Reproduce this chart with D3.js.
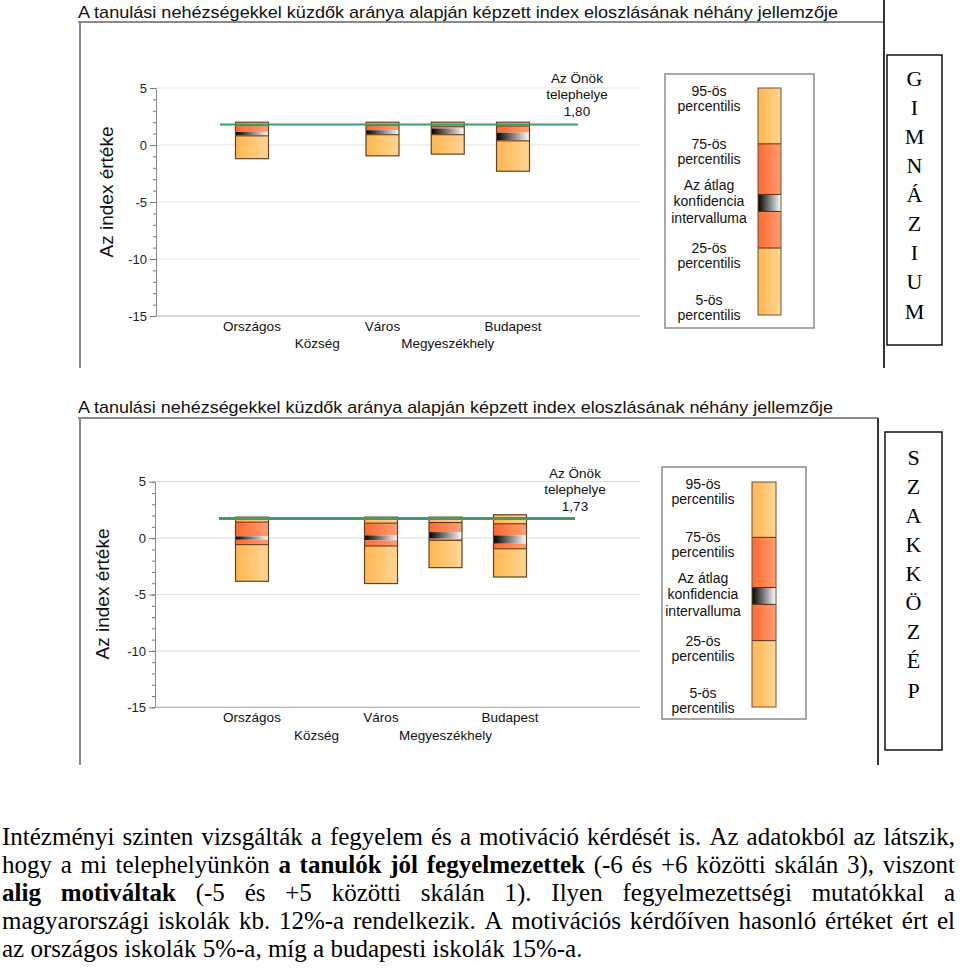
<!DOCTYPE html>
<html>
<head>
<meta charset="utf-8">
<script src="https://cdn.jsdelivr.net/npm/d3@7"></script>
<style>
  body { margin: 0; background: #fff; }
  svg { display: block; }
</style>
</head>
<body>
<script>
// ---- data ----
const chartTitle = "A tanulási nehézségekkel küzdők aránya alapján képzett index eloszlásának néhány jellemzője";
const categories = ["Országos", "Község", "Város", "Megyeszékhely", "Budapest"];
const yTicks = [5, 0, -5, -10, -15];
const yLabel = "Az index értéke";

// Gimnázium panel (null = no box)
const gimnP95  = [2.00, null, 2.00, 2.00, 2.00];
const gimnP75  = [1.75, null, 1.75, 1.65, 1.67];
const gimnCiHi = [1.15, null, 1.30, 1.45, 1.08];
const gimnCiLo = [0.85, null, 0.95, 0.95, 0.42];
const gimnP25  = [0.80, null, 0.90, 0.90, 0.36];
const gimnP5   = [-1.20, null, -0.95, -0.80, -2.30];
const gimnSite = 1.80;

// Szakközép panel
const szakP95  = [1.86, null, 1.86, 1.86, 2.07];
const szakP75  = [1.42, null, 1.33, 1.38, 1.27];
const szakCiHi = [0.15, null, 0.24, 0.53, 0.24];
const szakCiLo = [-0.15, null, -0.20, -0.05, -0.50];
const szakP25  = [-0.58, null, -0.70, -0.20, -0.95];
const szakP5   = [-3.83, null, -4.03, -2.62, -3.45];
const szakSite = 1.73;

const legendLabels = [
  ["95-ös", "percentilis"],
  ["75-ös", "percentilis"],
  ["Az átlag", "konfidencia", "intervalluma"],
  ["25-ös", "percentilis"],
  ["5-ös", "percentilis"]
];

const paraLines = [
  [{ t: "Intézményi szinten vizsgálták a fegyelem és a motiváció kérdését is. Az adatokból az látszik," }],
  [{ t: "hogy a mi telephelyünkön " }, { t: "a tanulók jól fegyelmezettek", b: true }, { t: " (-6 és +6 közötti skálán 3), viszont" }],
  [{ t: "alig motiváltak", b: true }, { t: " (-5 és +5 közötti skálán 1). Ilyen fegyelmezettségi mutatókkal a" }],
  [{ t: "magyarországi iskolák kb. 12%-a rendelkezik. A motivációs kérdőíven hasonló értéket ért el" }],
  [{ t: "az országos iskolák 5%-a, míg a budapesti iskolák 15%-a." }]
];

const SANS = "'Liberation Sans', Arial, Helvetica, sans-serif";
const SERIF = "'Liberation Serif', 'Times New Roman', Times, serif";

// ---- svg ----
const svg = d3.select('body').append('svg')
  .attr('width', 960)
  .attr('height', 969);

const defs = svg.append('defs');
function hGrad(id, c0, c1) {
  const g = defs.append('linearGradient').attr('id', id)
    .attr('x1', 0).attr('x2', 1).attr('y1', 0).attr('y2', 0);
  g.append('stop').attr('offset', '0%').attr('stop-color', c0);
  g.append('stop').attr('offset', '100%').attr('stop-color', c1);
}
hGrad('gLight', '#ffb64f', '#ffd694');
hGrad('gOrange', '#ff6a30', '#ff9e72');
hGrad('gCi', '#000000', '#ffffff');
const fills = { light: 'url(#gLight)', orange: 'url(#gOrange)', ci: 'url(#gCi)' };

const panels = [
  {
    titleY: 18, titleLen: 760, frameY: 22, frameRight: 884, frameBottom: 368,
    darkX: 884, darkTop: 0,
    axisX: 156, yTop: 88, yBot: 316, gridRight: 640,
    xRange: [252, 513], row1: 326, row2: 343,
    siteX: [220, 578], siteW: 2, annX: 577, annY: 78,
    legend: { x: 665, y: 74, w: 149, h: 254, barX: 758, barW: 23, barTop: 88, barBot: 315, textX: 709 },
    side: { x: 887, y: 55, w: 55, h: 290, word: "GIMNÁZIUM", first: 78 },
    yLabelPos: [106, 192],
    data: { p95: gimnP95, p75: gimnP75, ciHi: gimnCiHi, ciLo: gimnCiLo, p25: gimnP25, p5: gimnP5 },
    site: gimnSite
  },
  {
    titleY: 413, titleLen: 755, frameY: 418, frameRight: 878, frameBottom: 765,
    darkX: 878, darkTop: 418,
    axisX: 155, yTop: 481.7, yBot: 707.3, gridRight: 640,
    xRange: [252, 510], row1: 717, row2: 735,
    siteX: [219, 575], siteW: 3, annX: 575, annY: 473,
    legend: { x: 662, y: 467, w: 144, h: 252, barX: 752, barW: 24, barTop: 482, barBot: 707, textX: 703 },
    side: { x: 885, y: 432, w: 57, h: 318, word: "SZAKKÖZÉP", first: 457 },
    yLabelPos: [102, 594],
    data: { p95: szakP95, p75: szakP75, ciHi: szakCiHi, ciLo: szakCiLo, p25: szakP25, p5: szakP5 },
    site: szakSite
  }
];

panels.forEach(drawPanel);

function drawPanel(p) {
  const g = svg.append('g');

  // title
  g.append('text')
    .attr('x', 78).attr('y', p.titleY)
    .attr('textLength', p.titleLen)
    .attr('lengthAdjust', 'spacingAndGlyphs')
    .style('font-family', SANS)
    .style('font-size', '17px')
    .style('fill', '#111')
    .text(chartTitle);

  // frame lines
  g.append('line')
    .attr('x1', 78).attr('x2', p.frameRight)
    .attr('y1', p.frameY).attr('y2', p.frameY)
    .style('stroke', '#8a8a8a').style('stroke-width', 2);
  g.append('line')
    .attr('x1', 80).attr('x2', 80)
    .attr('y1', p.frameY).attr('y2', p.frameBottom)
    .style('stroke', '#8a8a8a').style('stroke-width', 2);
  g.append('line')
    .attr('x1', p.darkX).attr('x2', p.darkX)
    .attr('y1', p.darkTop).attr('y2', p.frameBottom)
    .style('stroke', '#333').style('stroke-width', 2);

  // scales
  const y = d3.scaleLinear().domain([-15, 5]).range([p.yBot, p.yTop]);
  const x = d3.scalePoint().domain(categories).range(p.xRange);

  // gridlines
  g.selectAll('.grid')
    .data(yTicks)
    .join('line')
    .attr('class', 'grid')
    .attr('x1', p.axisX).attr('x2', p.gridRight)
    .attr('y1', d => y(d)).attr('y2', d => y(d))
    .style('stroke', d => d === -15 ? '#b5b5b5' : '#e2e2e2')
    .style('stroke-width', 1.2);

  // minor ticks
  const minorAxis = d3.axisLeft(y)
    .tickValues(d3.range(-15, 6, 1))
    .tickSize(3)
    .tickFormat('');
  const minorG = g.append('g')
    .attr('transform', `translate(${p.axisX},0)`)
    .call(minorAxis);
  minorG.select('.domain').remove();
  minorG.selectAll('line').style('stroke', '#777');

  // major axis
  const yAxis = d3.axisLeft(y)
    .tickValues(yTicks)
    .tickSize(6)
    .tickPadding(3)
    .tickSizeOuter(0)
    .tickFormat(d => String(d));
  const axG = g.append('g')
    .attr('transform', `translate(${p.axisX},0)`)
    .call(yAxis);
  axG.select('.domain').style('stroke', '#888');
  axG.selectAll('.tick line').style('stroke', '#777');
  axG.selectAll('.tick text')
    .style('font-family', SANS)
    .style('font-size', '13px')
    .style('fill', '#222');

  // y label
  g.append('text')
    .attr('transform', `translate(${p.yLabelPos[0]},${p.yLabelPos[1]}) rotate(-90)`)
    .attr('text-anchor', 'middle')
    .attr('dy', '0.35em')
    .style('font-family', SANS)
    .style('font-size', '19px')
    .style('fill', '#111')
    .text(yLabel);

  // category labels
  g.selectAll('.cat')
    .data(categories)
    .join('text')
    .attr('class', 'cat')
    .attr('x', d => x(d))
    .attr('y', (d, i) => i % 2 === 0 ? p.row1 : p.row2)
    .attr('dy', '0.35em')
    .attr('text-anchor', 'middle')
    .style('font-family', SANS)
    .style('font-size', '13.5px')
    .style('fill', '#111')
    .text(d => d);

  // boxes
  const bw = 33;
  const d = p.data;
  const rows = categories.map((c, i) => ({
    cat: c, p95: d.p95[i], p75: d.p75[i], ciHi: d.ciHi[i], ciLo: d.ciLo[i], p25: d.p25[i], p5: d.p5[i]
  })).filter(r => r.p95 !== null);

  rows.forEach(r => {
    const bx = x(r.cat) - bw / 2;
    const segs = [
      [r.p75, r.p95, 'light'],
      [r.ciHi, r.p75, 'orange'],
      [r.ciLo, r.ciHi, 'ci'],
      [r.p25, r.ciLo, 'orange'],
      [r.p5, r.p25, 'light']
    ];
    g.selectAll(null)
      .data(segs)
      .join('rect')
      .attr('x', bx)
      .attr('width', bw)
      .attr('y', s => y(s[1]))
      .attr('height', s => Math.max(0, y(s[0]) - y(s[1])))
      .style('fill', s => fills[s[2]]);

    [r.p75, r.p25].forEach(v => {
      g.append('line')
        .attr('x1', bx).attr('x2', bx + bw)
        .attr('y1', y(v)).attr('y2', y(v))
        .style('stroke', '#5a2e12').style('stroke-width', 1);
    });

    g.append('rect')
      .attr('x', bx).attr('width', bw)
      .attr('y', y(r.p95))
      .attr('height', y(r.p5) - y(r.p95))
      .style('fill', 'none')
      .style('stroke', '#5d4428')
      .style('stroke-width', 1.2);
  });

  // site line
  g.append('line')
    .attr('x1', p.siteX[0]).attr('x2', p.siteX[1])
    .attr('y1', y(p.site)).attr('y2', y(p.site))
    .style('stroke', '#3f9a6c')
    .style('stroke-width', p.siteW);

  // annotation
  const ann = ["Az Önök", "telephelye", d3.format('.2f')(p.site).replace('.', ',')];
  g.selectAll(null)
    .data(ann)
    .join('text')
    .attr('x', p.annX)
    .attr('y', (t, i) => p.annY + i * 16.5)
    .attr('dy', '0.35em')
    .attr('text-anchor', 'middle')
    .style('font-family', SANS)
    .style('font-size', '13.5px')
    .style('fill', '#111')
    .text(t => t);

  // legend
  const L = p.legend;
  g.append('rect')
    .attr('x', L.x).attr('y', L.y).attr('width', L.w).attr('height', L.h)
    .style('fill', '#fff').style('stroke', '#8a8a8a').style('stroke-width', 1.5);

  const ly = d3.scaleLinear().domain([0, 1]).range([L.barTop, L.barBot]);
  const legSegs = [[0, 0.246, 'light'], [0.246, 0.469, 'orange'], [0.469, 0.544, 'ci'], [0.544, 0.705, 'orange'], [0.705, 1, 'light']];
  g.selectAll(null)
    .data(legSegs)
    .join('rect')
    .attr('x', L.barX).attr('width', L.barW)
    .attr('y', s => ly(s[0]))
    .attr('height', s => ly(s[1]) - ly(s[0]))
    .style('fill', s => fills[s[2]]);
  [0.246, 0.469, 0.544, 0.705].forEach(v => {
    g.append('line')
      .attr('x1', L.barX).attr('x2', L.barX + L.barW)
      .attr('y1', ly(v)).attr('y2', ly(v))
      .style('stroke', '#5a2e12').style('stroke-width', 1);
  });
  g.append('rect')
    .attr('x', L.barX).attr('width', L.barW)
    .attr('y', L.barTop).attr('height', L.barBot - L.barTop)
    .style('fill', 'none').style('stroke', '#6d5535').style('stroke-width', 1);

  const groupTops = [17, 70, 111, 174, 226];
  legendLabels.forEach((lines, gi) => {
    lines.forEach((t, li) => {
      g.append('text')
        .attr('x', L.textX)
        .attr('y', L.y + groupTops[gi] + li * (gi === 2 ? 16.5 : 15.5))
        .attr('dy', '0.35em')
        .attr('text-anchor', 'middle')
        .style('font-family', SANS)
        .style('font-size', '14px')
        .style('fill', '#111')
        .text(t);
    });
  });

  // side box
  const S = p.side;
  g.append('rect')
    .attr('x', S.x).attr('y', S.y).attr('width', S.w).attr('height', S.h)
    .style('fill', '#fff').style('stroke', '#111').style('stroke-width', 1.5);
  g.selectAll(null)
    .data(Array.from(S.word))
    .join('text')
    .attr('x', S.x + S.w / 2)
    .attr('y', (c, i) => S.first + i * 29.1)
    .attr('dy', '0.35em')
    .attr('text-anchor', 'middle')
    .style('font-family', SERIF)
    .style('font-size', '22px')
    .style('fill', '#000')
    .text(c => c);
}

// ---- paragraph (justified) ----
const paraSize = 25;
const para = svg.append('g');
const paraLeft = 2, paraRight = 955, baseY = 845, lineStep = 27.9;

paraLines.forEach((parts, li) => {
  const words = [];
  parts.forEach(part => {
    part.t.split(' ').forEach(w => {
      if (w !== '') words.push({ w: w, b: !!part.b });
    });
  });
  const nodes = words.map(o => para.append('text')
    .attr('y', baseY + li * lineStep)
    .style('font-family', SERIF)
    .style('font-size', paraSize + 'px')
    .style('font-weight', o.b ? 'bold' : 'normal')
    .style('fill', '#000')
    .text(o.w));
  const widths = nodes.map(n => n.node().getComputedTextLength());
  const total = d3.sum(widths);
  const last = li === paraLines.length - 1;
  const gap = last ? paraSize * 0.25 : (paraRight - paraLeft - total) / (words.length - 1);
  let cx = paraLeft;
  nodes.forEach((n, i) => {
    n.attr('x', cx);
    cx += widths[i] + gap;
  });
});
</script>
</body>
</html>
